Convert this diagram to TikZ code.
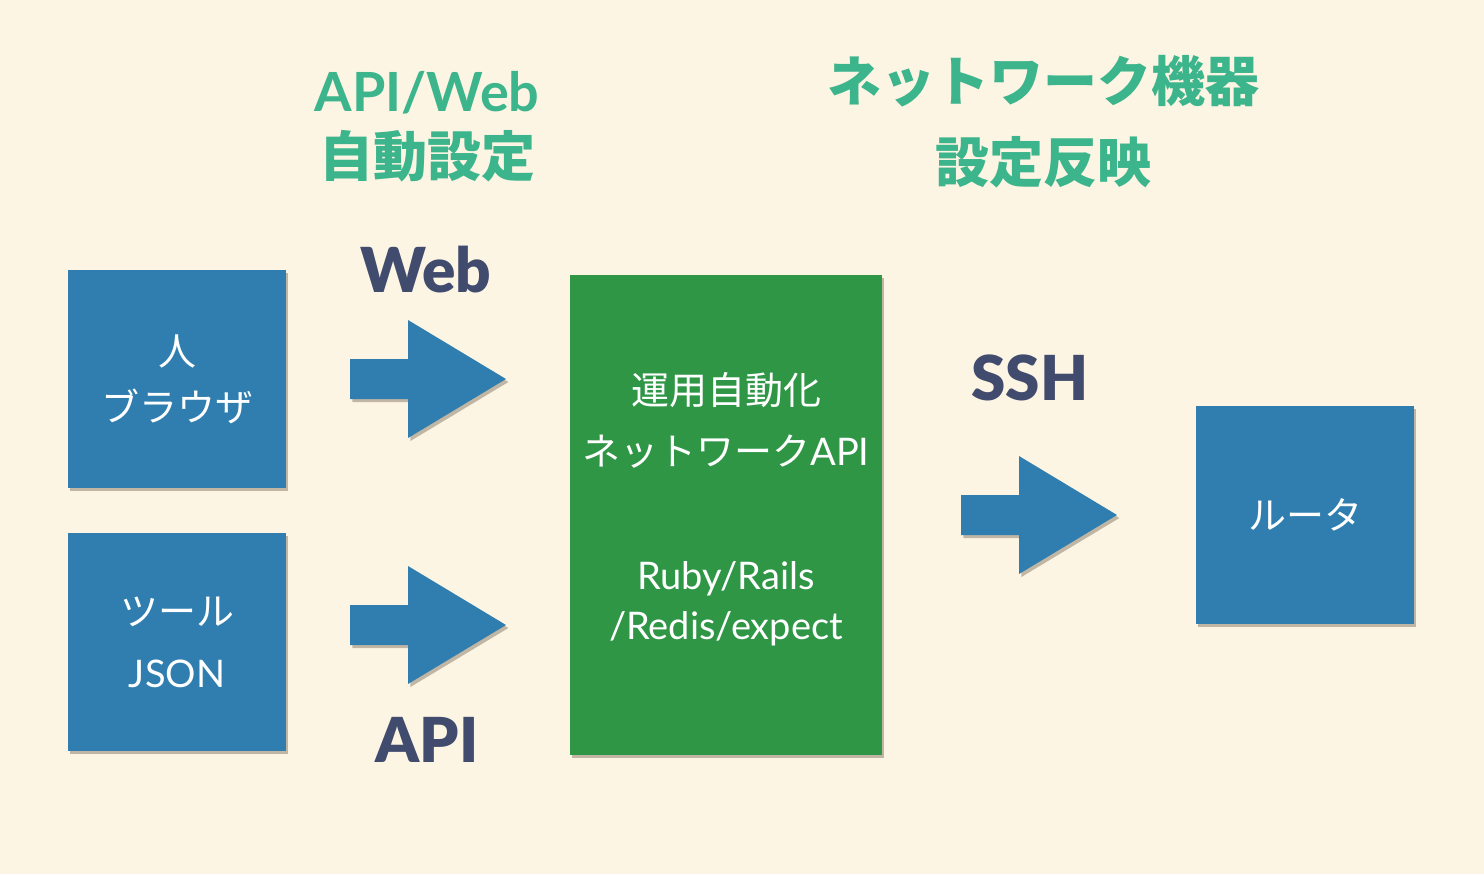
\documentclass[tikz,border=0pt]{standalone}
\usepackage{fontspec}
\setmainfont{Lato}
\newfontfamily\heavy{Lato Black}
\newfontfamily\jp{Noto Sans CJK JP}
\usetikzlibrary{positioning,calc,shadows}
\definecolor{bgcream}{HTML}{FDF5E4}
\definecolor{paperblue}{HTML}{2F7EAF}
\definecolor{papergreen}{HTML}{2F9646}
\definecolor{titlegreen}{HTML}{3CB48C}
\definecolor{labelnavy}{HTML}{414B6D}

\begin{document}
\begin{tikzpicture}[x=0.5pt, y=-0.5pt,
        paper shadow/.style={drop shadow={shadow xshift=1.2pt, shadow yshift=-1.5pt, opacity=0.3, fill=black!70!brown}},
        bluebox/.style={fill=paperblue, paper shadow, minimum width=109pt, minimum height=109pt, inner sep=0pt, text=white, align=center, font=\fontsize{19}{28}\selectfont},
        corebox/.style={fill=papergreen, paper shadow, minimum width=156pt, minimum height=240pt, inner sep=0pt, text=white, align=center, font=\fontsize{19}{30.5}\selectfont},
        title/.style={text=titlegreen, align=center, font=\bfseries\fontsize{27}{32.5}\selectfont},
        tag/.style={text=labelnavy, font=\heavy\fontsize{31}{36}\selectfont},
        blockarrow/.pic={\fill[paperblue, paper shadow] (-78,-20) -- (-20,-20) -- (-20,-59) -- (78,0) -- (-20,59) -- (-20,20) -- (-78,20) -- cycle;}
    ]
        \fill[bgcream] (0,0) rectangle (1484,874);

        % boxes
        \node[bluebox] (person) at (177,379) {{\jp 人}\\{\jp ブラウザ}};
        \node[bluebox] (tool) at (177,642) {{\jp ツール}\\[3pt]JSON};
        \node[corebox] (core) at (726,515) {{\jp 運用自動化}\\{\jp ネットワーク}API\\[31.5pt]Ruby/Rails\\[-5.5pt]/Redis/expect\\[-21pt]};
        \node[bluebox] (router) at (1305,515) {{\jp ルータ}};

        % arrows
        \pic at ($(person.east)!0.5!(person.east -| core.west)$) {blockarrow};
        \pic at (428,625) {blockarrow};
        \pic at ($(core.east |- router.west)!0.5!(router.west)$) {blockarrow};

        % labels
        \node[title] (settitle) at (427,127) {API/Web\\{\jp 自動設定}};
        \node[title] (pushtitle) at (1043,122) {{\jp ネットワーク機器}\\[8pt]{\jp 設定反映}};
        \node[tag] (web) at (426,270) {Web};
        \node[tag] (api) at (427,740) {API};
        \node[tag] (ssh) at (1030,378) {SSH};
\end{tikzpicture}
\end{document}
